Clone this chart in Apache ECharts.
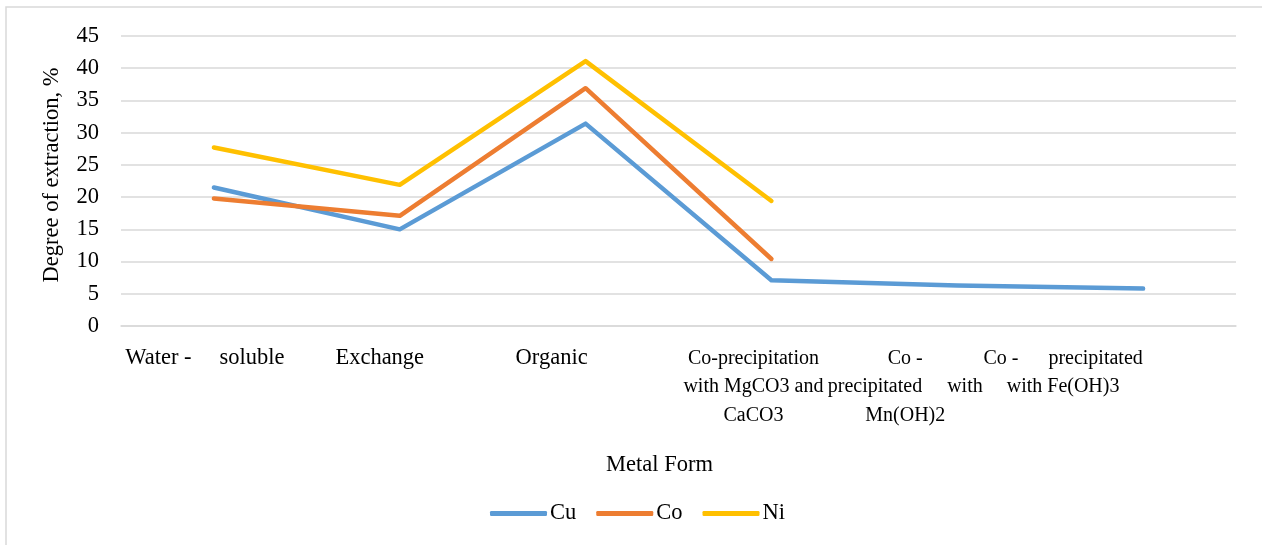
<!DOCTYPE html>
<html>
<head>
<meta charset="utf-8">
<script src="https://cdn.jsdelivr.net/npm/echarts@6/dist/echarts.min.js"></script>
<style>
  html, body { margin: 0; padding: 0; background: #fff; }
  #chart { width: 1262px; height: 545px; }
</style>
</head>
<body>
<div id="chart"></div>
<script>
// Metal forms (x categories), with their printed line breaks
const categories = [
  'Water -     soluble',
  'Exchange',
  'Organic',
  'Co-precipitation\nwith MgCO3 and\nCaCO3',
  'Co -\nprecipitated     with\nMn(OH)2',
  'Co -      precipitated\nwith Fe(OH)3'
];

// Degree of extraction, %
const cu = [21.5, 15.0, 31.4, 7.1, 6.3, 5.8];
const co = [19.8, 17.1, 36.9, 10.4, null, null];
const ni = [27.7, 21.9, 41.1, 19.4, null, null];

const yTicks = { min: 0, max: 45, step: 5 };

// per-label layout: horizontal nudge (px, negative = left) and font size
const labelShift = [-9, -20, -34, -18, -52, -80];
const labelSize = [22.5, 22.5, 22.5, 20, 20, 20];

const FONT = '"Liberation Serif", "Times New Roman", serif';
const FS = 22.5;

const chart = echarts.init(document.getElementById('chart'), null, { renderer: 'canvas' });

const catData = categories.map((c, i) => {
  const s = labelShift[i];
  return {
    value: c,
    textStyle: {
      fontSize: labelSize[i],
      padding: s < 0 ? [0, -2 * s, 0, 0] : [0, 0, 0, 2 * s]
    }
  };
});

function lineSeries(name, data, color) {
  return {
    name: name,
    type: 'line',
    data: data,
    symbol: 'none',
    showSymbol: false,
    connectNulls: false,
    lineStyle: { color: color, width: 4.5, cap: 'round', join: 'round' },
    itemStyle: { color: color },
    emphasis: { disabled: true },
    animation: false
  };
}

chart.setOption({
  animation: false,
  textStyle: { fontFamily: FONT, color: '#000' },
  graphic: [{
    type: 'rect',
    shape: { x: 6, y: 7, width: 1400, height: 700 },
    style: { fill: 'none', stroke: '#d9d9d9', lineWidth: 1.5 },
    silent: true,
    z: -10
  }],
  grid: {
    left: 121, right: 26, top: 36, bottom: 219,
    containLabel: false,
    outerBoundsMode: 'none'
  },
  legend: {
    top: 497,
    left: 485,
    padding: 5,
    icon: 'roundRect',
    itemWidth: 57,
    itemHeight: 5,
    itemGap: 20,
    data: ['Cu', 'Co', 'Ni'],
    textStyle: { fontFamily: FONT, fontSize: FS, color: '#000', padding: [0, 0, 0, -2] },
    selectedMode: false
  },
  xAxis: {
    type: 'category',
    data: catData,
    boundaryGap: true,
    name: 'Metal Form',
    nameLocation: 'middle',
    nameGap: 128,
    nameTextStyle: { fontFamily: FONT, fontSize: FS, color: '#000', padding: [0, 38, 0, 0] },
    axisLine: { show: true, lineStyle: { color: '#d9d9d9', width: 1.5 } },
    axisTick: { show: false },
    axisLabel: {
      interval: 0,
      margin: 18,
      fontFamily: FONT,
      fontSize: FS,
      lineHeight: 28.5,
      color: '#000',
      hideOverlap: false
    },
    splitLine: { show: false }
  },
  yAxis: {
    type: 'value',
    min: yTicks.min,
    max: yTicks.max,
    interval: yTicks.step,
    name: 'Degree of extraction, %',
    nameLocation: 'middle',
    nameRotate: 90,
    nameGap: 57,
    nameTextStyle: { fontFamily: FONT, fontSize: FS, color: '#000', padding: [0, 0, 0, 12] },
    axisLine: { show: false },
    axisTick: { show: false },
    axisLabel: { margin: 22, fontFamily: FONT, fontSize: FS, color: '#000' },
    splitLine: { show: true, lineStyle: { color: '#d9d9d9', width: 1.5 } }
  },
  series: [
    lineSeries('Cu', cu, '#5b9bd5'),
    lineSeries('Co', co, '#ed7d31'),
    lineSeries('Ni', ni, '#ffc000')
  ]
});
</script>
</body>
</html>
